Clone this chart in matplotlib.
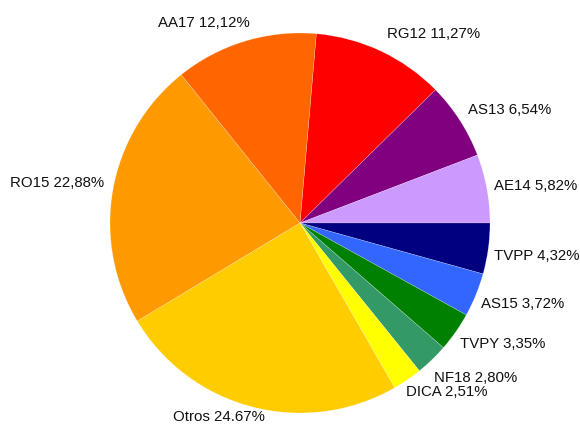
import numpy as np
import matplotlib.pyplot as plt

plt.rcParams['font.family'] = ['Liberation Sans', 'DejaVu Sans']

# grupos y porcentajes, en el orden en que se dibujan (sentido horario)
grupos = ['RG12', 'AS13', 'AE14', 'TVPP', 'AS15', 'TVPY', 'NF18', 'DICA',
          'Otros', 'RO15', 'AA17']
porcentajes = [11.27, 6.54, 5.82, 4.32, 3.72, 3.35, 2.80, 2.51,
               24.67, 22.88, 12.12]
etiquetas = ['RG12 11,27%', 'AS13 6,54%', 'AE14 5,82%', 'TVPP 4,32%',
             'AS15 3,72%', 'TVPY 3,35%', 'NF18 2,80%', 'DICA 2,51%',
             'Otros 24.67%', 'RO15 22,88%', 'AA17 12,12%']
colores = ['#ff0000', '#800080', '#cc99ff', '#000080', '#3366ff', '#008000',
           '#339966', '#ffff00', '#ffcc00', '#ff9900', '#ff6600']

# pequeños corrimientos de las etiquetas (px, y hacia abajo)
corrimientos = [(4, -5), (3, 0), (2, 6), (0, 0), (0, 0), (0, 2),
                (-2, 7), (-5, 1), (14, -2), (-3, 1), (7, -6)]

# TVPP empieza justo en el eje horizontal
inicio = 360 * sum(porcentajes[:3]) / 100

fig = plt.figure(figsize=(5.8, 4.25), dpi=100)
ax = fig.add_axes([0.0, 0.0, 1.0, 1.0])
wedges, textos = ax.pie(porcentajes, labels=etiquetas, colors=colores,
                        startangle=inicio, counterclock=False,
                        labeldistance=1.03, radius=1.0,
                        wedgeprops=dict(linewidth=0.4, edgecolor=(1, 1, 1, 0.35)),
                        textprops=dict(fontsize=10.8, color='#111111'))
R = 190.0  # radio en px
for t, (dx, dy) in zip(textos, corrimientos):
    x, y = t.get_position()
    t.set_verticalalignment('bottom' if y > 0 else 'top')
    t.set_position((x + dx / R, y - dy / R))

# eje en pixeles: centro (300, 223), radio 190
ax.set_xlim(-300 / R, 280 / R)
ax.set_ylim(-(425 - 223) / R, 223 / R)
ax.set_aspect('auto')
ax.axis('off')
fig.savefig('out.png', dpi=100, facecolor='white')
